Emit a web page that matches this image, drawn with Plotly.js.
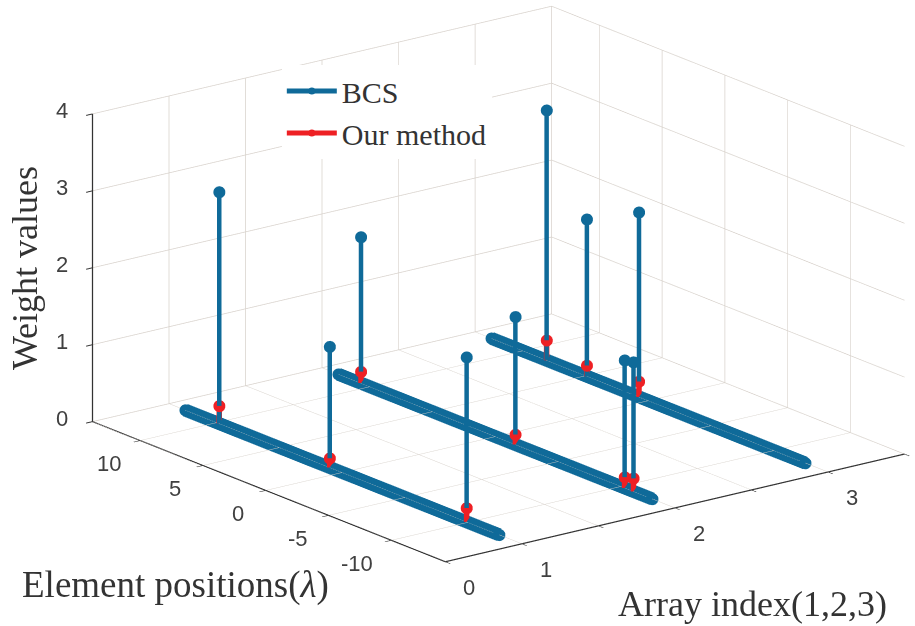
<!DOCTYPE html>
<html><head><meta charset="utf-8">
<script src="https://cdn.plot.ly/plotly-3.0.1.min.js"></script>
<style>html,body{margin:0;padding:0;background:#fff}#c{width:915px;height:626px}</style></head>
<body><div id="c"></div>
<script>
const arrayPositions = [1, 3, 5];
const lineExtent = [-12.5, 12.5];
const stemArray = [1, 1, 1, 3, 3, 3, 3, 5, 5, 5];
const stemPosition = [9.8, 1.0, -9.9, 10.7, -1.6, -10.3, -11.0, 8.1, 4.9, 0.75];
const bcsWeights = [3.01, 1.57, 2.14, 1.9, 1.66, 1.66, 1.68, 3.25, 2.04, 2.4];
const ourWeights = [0.23, 0.12, 0.18, 0.15, 0.13, 0.14, 0.17, 0.26, 0.14, 0.2];
const xTickVals = [0, 1, 2, 3, 4, 5, 6];
const xTickText = ['0', '1', '', '2', '', '3', ''];
const yTickVals = [-10, -5, 0, 5, 10];
const zTickVals = [0, 1, 2, 3, 4];
const xMin = 0, xMax = 6, yMin = -14.3, yMax = 13.8, zMin = 0, zMax = 4;
const blue = '#0F6A99', red = '#EE2024';

function stemLines(vals, color, width) {
  const x = [], y = [], z = [];
  vals.forEach((v, i) => {
    x.push(stemArray[i], stemArray[i], null);
    y.push(stemPosition[i], stemPosition[i], null);
    z.push(0, v, null);
  });
  return {type: 'scatter3d', mode: 'lines', showlegend: false, x, y, z, connectgaps: false,
    line: {color, width}, hoverinfo: 'skip'};
}
function stemTops(vals, color, name) {
  const x = [], y = [], z = [];
  vals.forEach((v, i) => {
    x.push(stemArray[i], null);
    y.push(stemPosition[i], null);
    z.push(v, null);
  });
  return {type: 'scatter3d', mode: 'lines+markers', name, x, y, z, connectgaps: false,
    line: {color, width: 5}, marker: {color, size: 7, opacity: 1, line: {width: 0}}, hoverinfo: 'skip'};
}
const thick = arrayPositions.map(a => ({
  type: 'scatter3d', mode: 'lines+markers', showlegend: false, hoverinfo: 'skip',
  x: [a, a], y: lineExtent, z: [0, 0], line: {color: blue, width: 26},
  marker: {color: blue, size: 7, line: {width: 0}}
}));
const thickCore = arrayPositions.map(a => ({
  type: 'scatter3d', mode: 'lines', showlegend: false, hoverinfo: 'skip',
  x: [a, a], y: lineExtent, z: [0, 0], line: {color: blue, width: 13}
}));
const axisCommon = {showbackground: false, gridcolor: '#d8d2cc', gridwidth: 1.5, zeroline: false,
  showline: true, linecolor: '#333', linewidth: 2.5, ticks: 'inside', ticklen: 8, tickcolor: '#333', tickwidth: 2,
  showspikes: false, autorange: false, showticklabels: false, title: {text: ''}};
const r = 2.5;
const k = 1.85;
const cx = -0.121, cy = 0.0574, cz = -0.0883;
const serif = 'Liberation Serif';
const tickFont = {family: 'Liberation Sans', size: 22, color: '#404040'};
const tickNotes = [].concat(
  xTickVals.map((v, i) => ({x: v, y: yMin, z: zMin, text: xTickText[i], showarrow: false, xshift: 24, yshift: -26, font: tickFont}))
    .filter(a => a.text !== ''),
  yTickVals.map(v => ({x: xMin, y: v, z: zMin, text: String(v), showarrow: false,
    xshift: -28 - 3 * (String(v).length - 1), yshift: -23, font: tickFont})),
  zTickVals.map(v => ({x: xMin, y: yMax, z: v, text: String(v), showarrow: false, xshift: -30, yshift: 3, font: tickFont}))
);
const layout = {
  width: 915, height: 626, margin: {l: 0, r: 0, t: 0, b: 0}, paper_bgcolor: '#fff', showlegend: true,
  legend: {x: 0.308, y: 0.896, xanchor: 'left', yanchor: 'top', bgcolor: '#fff', borderwidth: 0,
    font: {family: serif, size: 30, color: '#333'}, itemwidth: 50},
  scene: {
    domain: {x: [0, 1], y: [0, 1]},
    aspectmode: 'manual', aspectratio: {x: k, y: k, z: 0.558 * k},
    camera: {eye: {x: -0.581 * r + cx, y: -0.756 * r + cy, z: 0.3056 * r + cz}, center: {x: cx, y: cy, z: cz}, up: {x: 0, y: 0, z: 1},
      projection: {type: 'orthographic'}},
    xaxis: Object.assign({}, axisCommon, {range: [xMin, xMax], tickmode: 'array', tickvals: xTickVals, ticktext: xTickText}),
    yaxis: Object.assign({}, axisCommon, {range: [yMin, yMax], tickmode: 'array', tickvals: yTickVals, ticktext: yTickVals.map(String)}),
    zaxis: Object.assign({}, axisCommon, {range: [zMin, zMax], tickmode: 'array', tickvals: zTickVals, ticktext: zTickVals.map(String)}),
    annotations: tickNotes
  },
  annotations: [
    {text: 'Weight values', xref: 'paper', yref: 'paper', x: 25 / 915, y: 1 - 268 / 626, xanchor: 'center', yanchor: 'middle', textangle: -90, showarrow: false,
      font: {family: serif, size: 36, color: '#333'}},
    {text: 'Element positions(<i>λ</i>)', xref: 'paper', yref: 'paper', x: 175 / 915, y: 1 - 585 / 626, xanchor: 'center', yanchor: 'middle', showarrow: false,
      font: {family: serif, size: 37, color: '#333'}},
    {text: 'Array index(1,2,3)', xref: 'paper', yref: 'paper', x: 752 / 915, y: 1 - 604 / 626, xanchor: 'center', yanchor: 'middle', showarrow: false,
      font: {family: serif, size: 36, color: '#333'}}
  ]
};
Plotly.newPlot('c', thick.concat(thickCore, [stemLines(bcsWeights, blue, 9), stemLines(ourWeights, red, 11), stemTops(bcsWeights, blue, 'BCS'), stemTops(ourWeights, red, 'Our method')]), layout,
  {displayModeBar: false});
</script></body></html>
